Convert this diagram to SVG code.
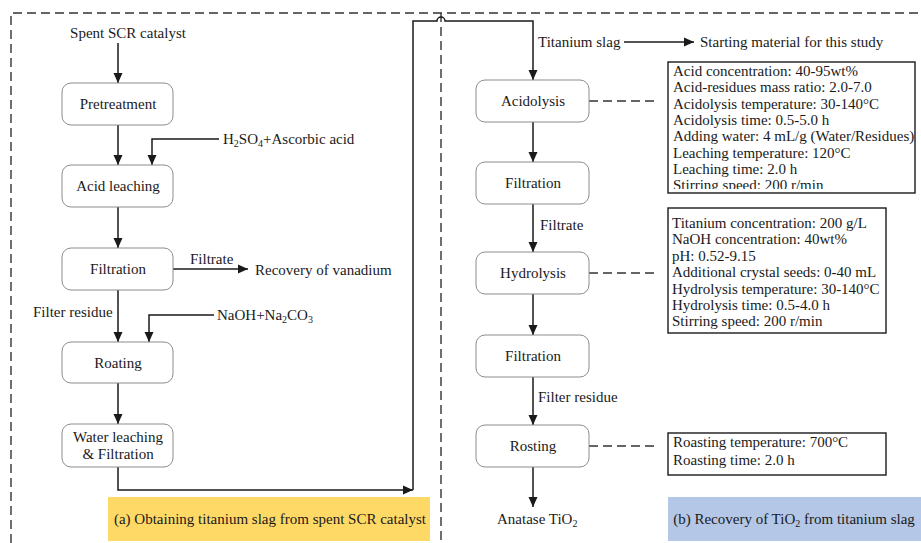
<svg xmlns="http://www.w3.org/2000/svg" width="921" height="543" viewBox="0 0 921 543">
<style>
text{font-family:"Liberation Serif","Times New Roman",serif;font-size:15px;fill:#1a1a1a}
.node rect{fill:#fff;stroke:#8c8c8c;stroke-width:1}
.c{text-anchor:middle}
.ln{fill:none;stroke:#1a1a1a;stroke-width:1.5}
.dash{fill:none;stroke:#333;stroke-width:1.4;stroke-dasharray:9 5}
.pbox{fill:#fff;stroke:#1a1a1a;stroke-width:1.4}
.sub{font-size:10px}
</style>
<defs>
<marker id="ah" markerUnits="userSpaceOnUse" markerWidth="11" markerHeight="10" refX="10" refY="5" orient="auto">
<path d="M0,0.5 L10,5 L0,9.5 z" fill="#1a1a1a"/>
</marker>
<clipPath id="clip1"><rect x="668" y="62" width="247" height="127"/></clipPath>
</defs>
<rect width="921" height="543" fill="#fff"/>
<g id="frame">
<path class="dash" d="M11,543 V13 H921"/>
<path class="dash" d="M441,13 V543"/>
</g>
<g id="connectors">
<path class="ln" d="M118,43 V83" marker-end="url(#ah)"/>
<path class="ln" d="M118,125 V165" marker-end="url(#ah)"/>
<path class="ln" d="M219,139 H152 V165" marker-end="url(#ah)"/>
<path class="ln" d="M118,207 V248" marker-end="url(#ah)"/>
<path class="ln" d="M173,269 H248" marker-end="url(#ah)"/>
<path class="ln" d="M118,290 V342" marker-end="url(#ah)"/>
<path class="ln" d="M214,315 H149 V342" marker-end="url(#ah)"/>
<path class="ln" d="M118,383 V424" marker-end="url(#ah)"/>
<path class="ln" d="M118,467 V490 H413" marker-end="url(#ah)"/>
<path class="ln" d="M413,490 V21 H437 A4,4 0 0 1 445,21 H533 V80" marker-end="url(#ah)"/>
<path class="ln" d="M624,42 H694" marker-end="url(#ah)"/>
<path class="ln" d="M533,122 V162" marker-end="url(#ah)"/>
<path class="ln" d="M533,204 V252" marker-end="url(#ah)"/>
<path class="ln" d="M533,294 V335" marker-end="url(#ah)"/>
<path class="ln" d="M533,377 V425" marker-end="url(#ah)"/>
<path class="ln" d="M533,467 V507" marker-end="url(#ah)"/>
<path class="dash" d="M589,101 H655"/>
<path class="dash" d="M589,273 H655"/>
<path class="dash" d="M589,446 H655"/>
</g>
<g id="labels">
<text x="128" y="38" class="c">Spent SCR catalyst</text>
<text x="223" y="144">H<tspan class="sub" dy="3">2</tspan><tspan dy="-3">SO</tspan><tspan class="sub" dy="3">4</tspan><tspan dy="-3">+Ascorbic acid</tspan></text>
<text x="190" y="264">Filtrate</text>
<text x="255" y="275">Recovery of vanadium</text>
<text x="33" y="317">Filter residue</text>
<text x="217" y="320">NaOH+Na<tspan class="sub" dy="3">2</tspan><tspan dy="-3">CO</tspan><tspan class="sub" dy="3">3</tspan></text>
<text x="538" y="47">Titanium slag</text>
<text x="700" y="47">Starting material for this study</text>
<text x="540" y="230">Filtrate</text>
<text x="538" y="402">Filter residue</text>
<text x="497" y="524">Anatase TiO<tspan class="sub" dy="3">2</tspan></text>
</g>
<g id="n-pretreatment" class="node"><rect x="62" y="83" width="111" height="42" rx="9"/><text x="118" y="109" class="c">Pretreatment</text></g>
<g id="n-acidleaching" class="node"><rect x="62" y="165" width="111" height="42" rx="9"/><text x="118" y="191" class="c">Acid leaching</text></g>
<g id="n-filtration1" class="node"><rect x="62" y="248" width="111" height="42" rx="9"/><text x="118" y="274" class="c">Filtration</text></g>
<g id="n-roating" class="node"><rect x="62" y="342" width="111" height="41" rx="9"/><text x="118" y="368" class="c">Roating</text></g>
<g id="n-waterleaching" class="node"><rect x="62" y="424" width="111" height="43" rx="9"/><text x="118" y="442" class="c">Water leaching</text><text x="118" y="459" class="c">&amp; Filtration</text></g>
<g id="n-acidolysis" class="node"><rect x="476" y="80" width="113" height="42" rx="9"/><text x="533" y="106" class="c">Acidolysis</text></g>
<g id="n-filtration2" class="node"><rect x="476" y="162" width="113" height="42" rx="9"/><text x="533" y="188" class="c">Filtration</text></g>
<g id="n-hydrolysis" class="node"><rect x="476" y="252" width="113" height="42" rx="9"/><text x="533" y="278" class="c">Hydrolysis</text></g>
<g id="n-filtration3" class="node"><rect x="476" y="335" width="113" height="42" rx="9"/><text x="533" y="361" class="c">Filtration</text></g>
<g id="n-rosting" class="node"><rect x="476" y="425" width="113" height="42" rx="9"/><text x="533" y="451" class="c">Rosting</text></g>
<g id="p-acidolysis">
<rect class="pbox" x="668" y="62" width="247" height="131"/>
<g clip-path="url(#clip1)">
<text x="673" y="76">Acid concentration: 40-95wt%</text>
<text x="673" y="92.3">Acid-residues mass ratio: 2.0-7.0</text>
<text x="673" y="108.6">Acidolysis temperature: 30-140°C</text>
<text x="673" y="124.9">Acidolysis time: 0.5-5.0 h</text>
<text x="673" y="141.2">Adding water: 4 mL/g (Water/Residues)</text>
<text x="673" y="157.5">Leaching temperature: 120°C</text>
<text x="673" y="173.8">Leaching time: 2.0 h</text>
<text x="673" y="190.1">Stirring speed: 200 r/min</text>
</g>
</g>
<g id="p-hydrolysis">
<rect class="pbox" x="668" y="208" width="218" height="125"/>
<text x="672" y="228">Titanium concentration: 200 g/L</text>
<text x="672" y="244.4">NaOH concentration: 40wt%</text>
<text x="672" y="260.8">pH: 0.52-9.15</text>
<text x="672" y="277.2">Additional crystal seeds: 0-40 mL</text>
<text x="672" y="293.6">Hydrolysis temperature: 30-140°C</text>
<text x="672" y="310">Hydrolysis time: 0.5-4.0 h</text>
<text x="672" y="326.4">Stirring speed: 200 r/min</text>
</g>
<g id="p-rosting">
<rect class="pbox" x="668" y="433" width="218" height="42"/>
<text x="673" y="447">Roasting temperature: 700°C</text>
<text x="673" y="465">Roasting time: 2.0 h</text>
</g>
<g id="caption-a">
<rect x="108" y="497" width="322" height="44" fill="#FFD966"/>
<text x="270" y="524" class="c">(a) Obtaining titanium slag from spent SCR catalyst</text>
</g>
<g id="caption-b">
<rect x="668" y="497" width="253" height="44" fill="#B4C7E7"/>
<text x="794" y="524" class="c">(b) Recovery of TiO<tspan class="sub" dy="3">2</tspan><tspan dy="-3"> from titanium slag</tspan></text>
</g>
</svg>
